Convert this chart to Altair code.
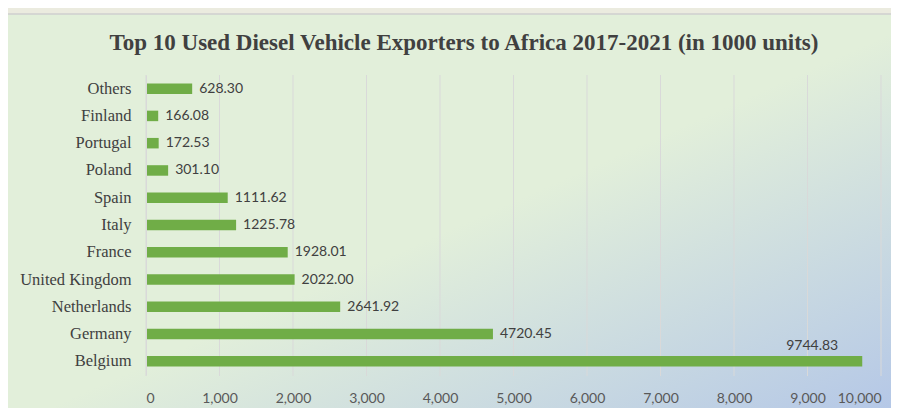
import altair as alt
import pandas as pd

countries = ["Others", "Finland", "Portugal", "Poland", "Spain", "Italy", "France",
             "United Kingdom", "Netherlands", "Germany", "Belgium"]
values = [628.30, 166.08, 172.53, 301.10, 1111.62, 1225.78, 1928.01,
          2022.00, 2641.92, 4720.45, 9744.83]
x_ticks = [0, 1000, 2000, 3000, 4000, 5000, 6000, 7000, 8000, 9000, 10000]
title_text = "Top 10 Used Diesel Vehicle Exporters to Africa 2017-2021 (in 1000 units)"

df = pd.DataFrame({"country": countries, "value": values})
ticks_df = pd.DataFrame({"t": x_ticks})
title_df = pd.DataFrame({"title": [title_text]})

W, H = 735, 300

bg = alt.Chart(pd.DataFrame({"a": [0]})).mark_rect(
    color=alt.Gradient(
        gradient="linear",
        stops=[alt.GradientStop(color="#e2efda", offset=0),
               alt.GradientStop(color="#e2efda", offset=0.52),
               alt.GradientStop(color="#b4c7e7", offset=1)],
        x1=0, y1=0, x2=1, y2=1),
    stroke="#d0d0d0", strokeWidth=1.5
).encode(x=alt.value(-140), x2=alt.value(753), y=alt.value(-61), y2=alt.value(336))

x_scale = alt.Scale(domain=[0, 10000], nice=False)
x_axis = alt.Axis(values=x_ticks, format=",d", domain=False, ticks=False,
                  grid=False, labelFont="Lato", labelFontSize=14,
                  labelColor="#595959", labelPadding=16, zindex=1)

grid = alt.Chart(ticks_df).mark_rule(color="#d9d9d9", strokeWidth=1).encode(
    x=alt.X("t:Q", scale=x_scale, axis=x_axis, title=None),
    y=alt.value(0), y2=alt.value(H + 1))

y_enc = alt.Y("country:N", sort=countries, title=None,
              scale=alt.Scale(paddingInner=0.615, paddingOuter=0.3075),
              axis=alt.Axis(domain=True, domainColor="#d9d9d9", ticks=False,
                            labelFont="Liberation Serif", labelFontSize=16.5,
                            labelColor="#404040", labelPadding=15, zindex=1))
x_enc = alt.X("value:Q", title=None, scale=x_scale, axis=x_axis)

base = alt.Chart(df)
bars = base.mark_bar(color="#70ad47").encode(x=x_enc, y=y_enc)

labels = base.transform_filter(alt.datum.country != "Belgium").mark_text(
    align="left", baseline="middle", dx=7, font="Lato", fontSize=14, color="#404040"
).encode(x="value:Q", y=alt.Y("country:N", sort=countries),
         text=alt.Text("value:Q", format=".2f"))

top_label = base.transform_filter(alt.datum.country == "Belgium").mark_text(
    align="right", baseline="middle", dx=-24, dy=-15, font="Lato", fontSize=14, color="#404040"
).encode(x="value:Q", y=alt.Y("country:N", sort=countries),
         text=alt.Text("value:Q", format=".2f"))

title = alt.Chart(title_df).mark_text(
    font="Liberation Serif", fontSize=23, fontWeight="bold", color="#404040",
    align="center", baseline="middle"
).encode(text="title:N", x=alt.value(318), y=alt.value(-32))

chart = alt.layer(bg, grid, bars, labels, top_label, title).properties(
    width=W, height=H,
    autosize=alt.AutoSizeParams(type="none"),
    padding={"left": 138, "top": 67, "right": 10, "bottom": 33},
    background="#ebebdf",
).configure_view(strokeWidth=0)

chart.save("out.html", embed_options={"renderer": "svg", "actions": False})
